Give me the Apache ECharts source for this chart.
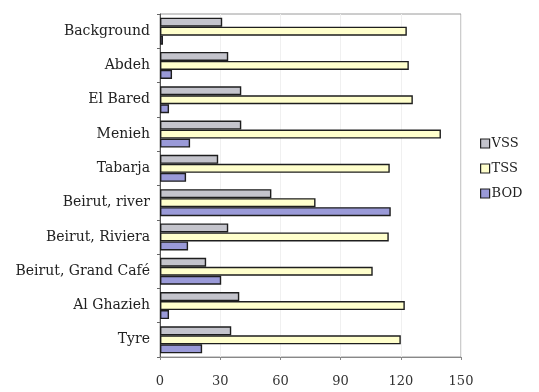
<!DOCTYPE html>
<html>
<head>
<meta charset="utf-8">
<script src="https://cdn.jsdelivr.net/npm/echarts@6/dist/echarts.min.js"></script>
<style>
  html, body { margin: 0; padding: 0; background: #fff; }
  #chart { width: 539px; height: 392px; }
</style>
</head>
<body>
<div id="chart"></div>
<script>
const sites = ['Background', 'Abdeh', 'El Bared', 'Menieh', 'Tabarja', 'Beirut, river',
  'Beirut, Riviera', 'Beirut, Grand Café', 'Al Ghazieh', 'Tyre'];
const vss = [31, 34, 40.5, 40.5, 29, 55.5, 34, 23, 39.5, 35.5];
const tss = [123, 124, 126, 140, 114.5, 77.5, 114, 106, 122, 120];
const bod = [1.5, 6, 4.5, 15, 13, 115, 14, 30.5, 4.5, 21];
const xTicks = [0, 30, 60, 90, 120, 150];

const serif = '"DejaVu Serif", serif';
const chart = echarts.init(document.getElementById('chart'));

const barSeries = (name, data, color) => ({
  name: name,
  type: 'bar',
  data: data,
  barWidth: 9,
  barGap: '0%',
  itemStyle: { color: color, borderColor: '#1e1e1e', borderWidth: 1.4 }
});

chart.setOption({
  animation: false,
  textStyle: { fontFamily: serif },
  grid: { left: 160, right: 78, top: 14, bottom: 35, show: true, borderColor: '#9a9a9a', borderWidth: 1 },
  legend: {
    orient: 'vertical',
    left: 475,
    top: 132,
    itemWidth: 9,
    itemHeight: 9,
    itemGap: 12,
    icon: 'rect',
    textStyle: { fontFamily: serif, fontSize: 13, color: '#222', padding: [0, 0, 0, -3] },
    itemStyle: { borderColor: '#222', borderWidth: 1.2 }
  },
  xAxis: {
    type: 'value',
    min: 0,
    max: 150,
    interval: 30,
    axisLine: { show: true, lineStyle: { color: '#888' } },
    axisTick: { show: true, length: 3, lineStyle: { color: '#888' } },
    axisLabel: {
      margin: 18, fontFamily: serif, fontSize: 13, color: '#333',
      formatter: v => xTicks.includes(v) ? String(v) : ''
    },
    splitLine: { show: true, lineStyle: { color: '#f0f0f0' } }
  },
  yAxis: {
    type: 'category',
    data: sites,
    inverse: true,
    axisLine: { show: true, lineStyle: { color: '#555' } },
    axisTick: { show: true, length: 3, lineStyle: { color: '#666' } },
    axisLabel: { margin: 10, fontFamily: serif, fontSize: 14, color: '#222' }
  },
  series: [
    barSeries('VSS', vss, '#c4c4cc'),
    barSeries('TSS', tss, '#ffffcc'),
    barSeries('BOD', bod, '#9a9ad8')
  ]
});
</script>
</body>
</html>
